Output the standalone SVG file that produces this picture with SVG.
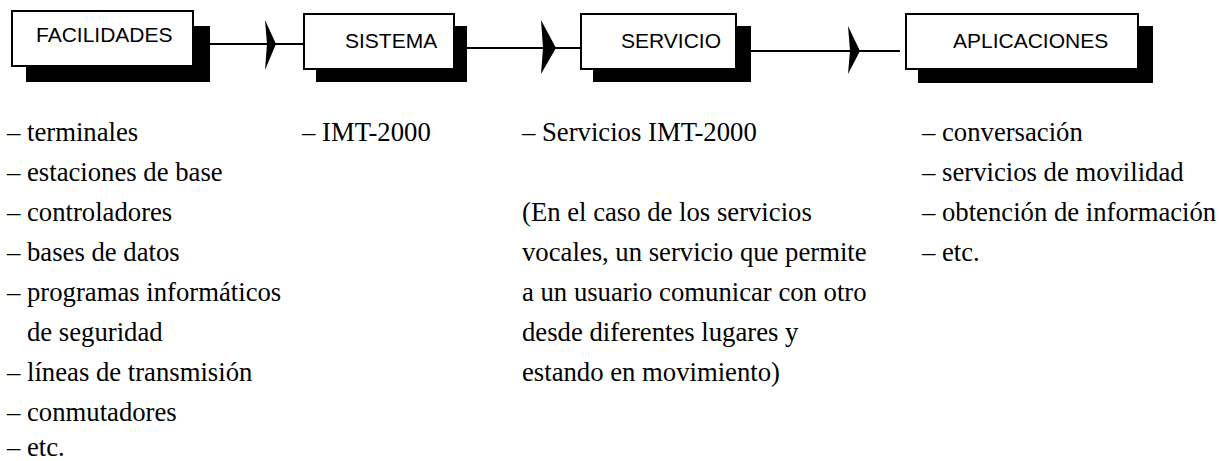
<svg xmlns="http://www.w3.org/2000/svg" width="1220" height="461" viewBox="0 0 1220 461">
<style>
.box{fill:#fff;stroke:#000;stroke-width:2}
.sh{fill:#000}
.bt{font-family:"Liberation Sans",Arial,sans-serif;font-size:21px;fill:#000}
.tx{font-family:"Liberation Serif","Times New Roman",serif;font-size:26.7px;fill:#000}
.ln{stroke:#000;stroke-width:2;fill:none}
.ah{fill:#000}
</style>
<rect width="1220" height="461" fill="#fff"/>
<g id="connectors">
<line class="ln" x1="190" y1="44" x2="304" y2="44"/>
<polygon class="ah" points="265,20 276,44 265,70 267,44"/>
<line class="ln" x1="454" y1="48" x2="585" y2="48"/>
<polygon class="ah" points="541,20 556,48 541,74 543,48"/>
<line class="ln" x1="736" y1="51" x2="900" y2="51"/>
<polygon class="ah" points="848,26 860,51 848,74 850,51"/>
</g>
<g id="facilidades">
<rect class="sh" x="26" y="26" width="184" height="56"/>
<rect class="box" x="12" y="11" width="181" height="55"/>
<text class="bt" x="36" y="42">FACILIDADES</text>
</g>
<g id="sistema">
<rect class="sh" x="316" y="26" width="151" height="56"/>
<rect class="box" x="304" y="14" width="150" height="55"/>
<text class="bt" x="345" y="48">SISTEMA</text>
</g>
<g id="servicio">
<rect class="sh" x="593" y="26" width="158" height="56"/>
<rect class="box" x="581" y="14" width="155" height="55"/>
<text class="bt" x="621" y="48">SERVICIO</text>
</g>
<g id="aplicaciones">
<rect class="sh" x="918" y="26" width="235" height="57"/>
<rect class="box" x="906" y="14" width="232" height="55"/>
<text class="bt" x="953" y="48">APLICACIONES</text>
</g>
<g id="lista-facilidades">
<text class="tx" x="7" y="141">– terminales</text>
<text class="tx" x="7" y="181">– estaciones de base</text>
<text class="tx" x="7" y="221">– controladores</text>
<text class="tx" x="7" y="261">– bases de datos</text>
<text class="tx" x="7" y="301">– programas informáticos</text>
<text class="tx" x="27" y="341">de seguridad</text>
<text class="tx" x="7" y="381">– líneas de transmisión</text>
<text class="tx" x="7" y="421">– conmutadores</text>
<text class="tx" x="7" y="456">– etc.</text>
</g>
<g id="lista-sistema">
<text class="tx" x="302" y="141">– IMT-2000</text>
</g>
<g id="lista-servicio">
<text class="tx" x="522" y="141">– Servicios IMT-2000</text>
<text class="tx" x="522" y="221">(En el caso de los servicios</text>
<text class="tx" x="522" y="261">vocales, un servicio que permite</text>
<text class="tx" x="522" y="301">a un usuario comunicar con otro</text>
<text class="tx" x="522" y="341">desde diferentes lugares y</text>
<text class="tx" x="522" y="381">estando en movimiento)</text>
</g>
<g id="lista-aplicaciones">
<text class="tx" x="922" y="141">– conversación</text>
<text class="tx" x="922" y="181">– servicios de movilidad</text>
<text class="tx" x="922" y="221">– obtención de información</text>
<text class="tx" x="922" y="261">– etc.</text>
</g>
</svg>
